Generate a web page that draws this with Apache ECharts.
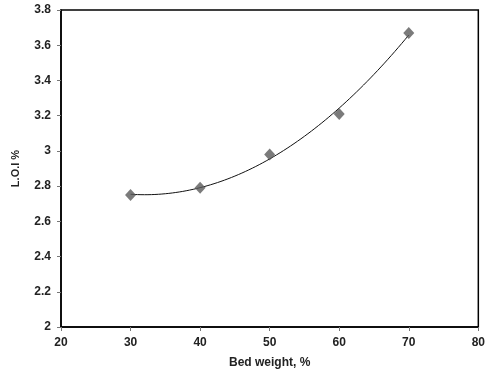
<!DOCTYPE html>
<html>
<head>
<meta charset="utf-8">
<script src="https://cdn.jsdelivr.net/npm/echarts@6/dist/echarts.min.js"></script>
<style>
  html, body { margin: 0; padding: 0; background: #fff; }
  #chart { width: 488px; height: 378px; }
</style>
</head>
<body>
<div id="chart"></div>
<script>
// Bed weight (%) vs. loss on ignition (%)
const bedWeight = [30, 40, 50, 60, 70];
const loi = [2.75, 2.79, 2.98, 3.21, 3.67];
const xTicks = [20, 30, 40, 50, 60, 70, 80];
const yTicks = [2, 2.2, 2.4, 2.6, 2.8, 3, 3.2, 3.4, 3.6, 3.8];

// Second-order least-squares trendline through the measured points
function quadFit(xs, ys) {
  const n = xs.length;
  let s = [0, 0, 0, 0, 0], t = [0, 0, 0];
  for (let i = 0; i < n; i++) {
    let p = 1;
    for (let k = 0; k < 5; k++) { s[k] += p; if (k < 3) t[k] += p * ys[i]; p *= xs[i]; }
  }
  const A = [[s[0], s[1], s[2], t[0]], [s[1], s[2], s[3], t[1]], [s[2], s[3], s[4], t[2]]];
  for (let i = 0; i < 3; i++) {
    for (let j = i + 1; j < 3; j++) {
      const f = A[j][i] / A[i][i];
      for (let k = i; k < 4; k++) A[j][k] -= f * A[i][k];
    }
  }
  const c = [0, 0, 0];
  for (let i = 2; i >= 0; i--) {
    let v = A[i][3];
    for (let k = i + 1; k < 3; k++) v -= A[i][k] * c[k];
    c[i] = v / A[i][i];
  }
  return x => c[0] + c[1] * x + c[2] * x * x;
}
const fit = quadFit(bedWeight, loi);
const trend = [];
const x0 = bedWeight[0], x1 = bedWeight[bedWeight.length - 1];
for (let i = 0; i <= 80; i++) {
  const x = x0 + (x1 - x0) * i / 80;
  trend.push([x, fit(x)]);
}

const font = 'Liberation Sans, Arial, sans-serif';
const chart = echarts.init(document.getElementById('chart'));
chart.setOption({
  animation: false,
  grid: { left: 61, right: 6, top: 10, bottom: 51, show: true, borderColor: '#000', borderWidth: 1.5 },
  xAxis: {
    type: 'value', min: xTicks[0], max: xTicks[xTicks.length - 1], interval: 10,
    name: 'Bed weight, %', nameLocation: 'middle', nameGap: 30,
    nameTextStyle: { fontFamily: font, fontWeight: 'bold', fontSize: 12, color: '#222' },
    axisLine: { lineStyle: { color: '#000', width: 1.5 } },
    axisTick: { show: true, length: 4, lineStyle: { color: '#777' } },
    axisLabel: { fontFamily: font, fontWeight: 'bold', fontSize: 12, color: '#222', margin: 10 },
    splitLine: { show: false }
  },
  yAxis: {
    type: 'value', min: yTicks[0], max: yTicks[yTicks.length - 1], interval: 0.2,
    name: 'L.O.I %', nameLocation: 'middle', nameGap: 40, nameRotate: 90,
    nameTextStyle: { fontFamily: font, fontWeight: 'bold', fontSize: 11, color: '#222' },
    axisLine: { lineStyle: { color: '#000', width: 1.5 } },
    axisTick: { show: true, length: 4, lineStyle: { color: '#777' } },
    axisLabel: {
      fontFamily: font, fontWeight: 'bold', fontSize: 12, color: '#222', margin: 10,
      formatter: v => String(parseFloat(v.toFixed(1)))
    },
    splitLine: { show: false }
  },
  series: [
    {
      type: 'line', data: trend, showSymbol: false, symbol: 'none',
      lineStyle: { color: '#111', width: 1 }, z: 2
    },
    {
      type: 'scatter', data: bedWeight.map((x, i) => [x, loi[i]]),
      symbol: 'diamond', symbolSize: [11, 12],
      itemStyle: { color: '#5a5a5a' }, z: 3
    }
  ]
});
</script>
</body>
</html>
